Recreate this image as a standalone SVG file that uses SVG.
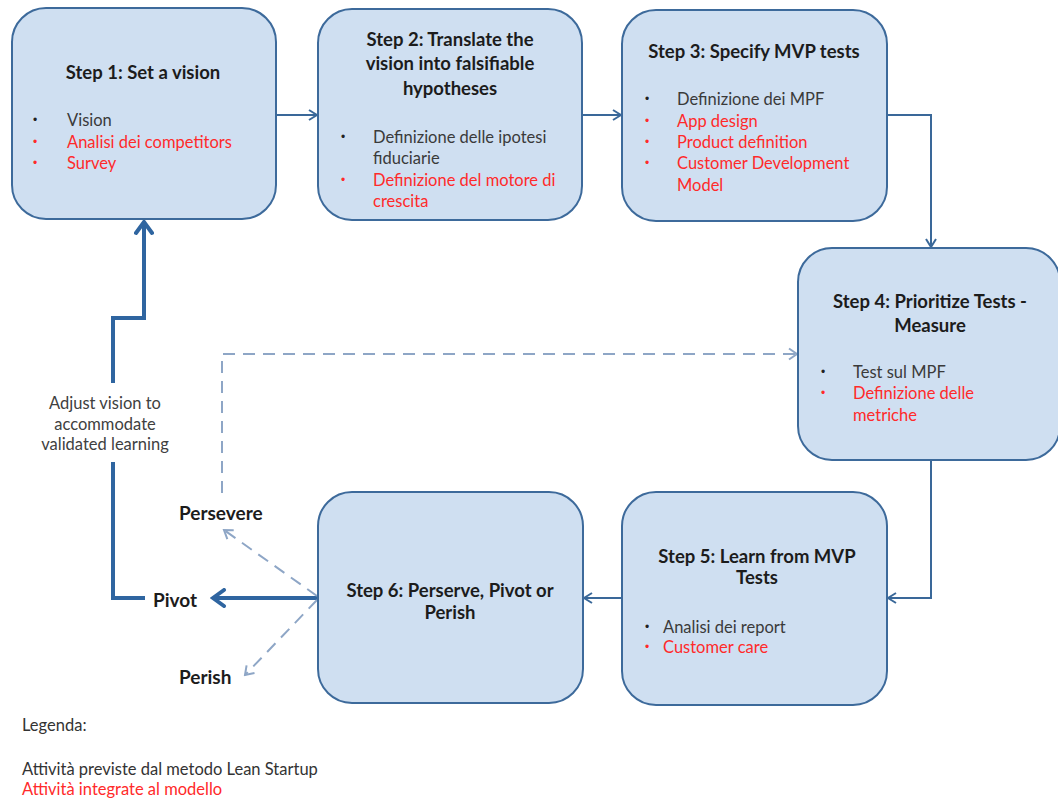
<svg xmlns="http://www.w3.org/2000/svg" width="1058" height="798" viewBox="0 0 1058 798">
  <defs>
    <style>
      .box { fill: #cfdff1; stroke: #3d6a9b; stroke-width: 2; }
      .title { font-family: Lato, "Liberation Sans", sans-serif; font-weight: bold; font-size: 18.5px; fill: #1c1c1c; text-anchor: middle; }
      .item { font-family: Lato, "Liberation Sans", sans-serif; font-size: 16.5px; fill: #3a3a3a; }
      .bul { font-family: "Liberation Sans", sans-serif; font-size: 12px; fill: #222; }
      .flow { fill: none; stroke: #3a6899; stroke-width: 2; }
      .thick { fill: none; stroke: #2f65a0; stroke-width: 4; }
      .dash { fill: none; stroke: #8ea6c6; stroke-width: 2; stroke-dasharray: 12 8; }
      .lbl { font-family: Lato, "Liberation Sans", sans-serif; font-weight: bold; font-size: 19px; fill: #1c1c1c; }
      .note { font-family: Lato, "Liberation Sans", sans-serif; font-size: 16.5px; fill: #404040; text-anchor: middle; }
      .legend { font-family: Lato, "Liberation Sans", sans-serif; font-size: 16.5px; fill: #333; }
      .red, .item.red, .bul.red, .legend.red { fill: #ff2a2a; }
    </style>
    <marker id="arr" viewBox="0 0 12 12" refX="11" refY="6" markerWidth="12" markerHeight="12" markerUnits="userSpaceOnUse" orient="auto">
      <path d="M3,1 L11,6 L3,11" fill="none" stroke="#3a6899" stroke-width="2"/>
    </marker>
    <marker id="arrThick" viewBox="0 0 20 20" refX="17" refY="10" markerWidth="20" markerHeight="20" markerUnits="userSpaceOnUse" orient="auto">
      <path d="M6,2 L17,10 L6,18" fill="none" stroke="#2f65a0" stroke-width="4" stroke-linecap="round"/>
    </marker>
    <marker id="arrDash" viewBox="0 0 14 14" refX="12" refY="7" markerWidth="14" markerHeight="14" markerUnits="userSpaceOnUse" orient="auto">
      <path d="M4,1.5 L12,7 L4,12.5" fill="none" stroke="#8ea6c6" stroke-width="2"/>
    </marker>
  </defs>

  <rect width="1058" height="798" fill="#ffffff"/>

  <!-- connectors -->
  <g id="connectors">
    <path class="flow" d="M276,115 L317,115" marker-end="url(#arr)"/>
    <path class="flow" d="M582,115 L621,115" marker-end="url(#arr)"/>
    <path class="flow" d="M887,115 L931,115 L931,247" marker-end="url(#arr)"/>
    <path class="flow" d="M931,461 L931,598 L888,598" marker-end="url(#arr)"/>
    <path class="flow" d="M622,598 L584,598" marker-end="url(#arr)"/>
    <path class="thick" d="M317,598 L213,598" marker-end="url(#arrThick)"/>
    <path class="thick" d="M145,598 L113,598 L113,462"/>
    <path class="thick" d="M113,383 L113,318 L144,318 L144,222" marker-end="url(#arrThick)"/>
    <path class="dash" d="M317,596 L224,530" marker-end="url(#arrDash)"/>
    <path class="dash" d="M317,600 L245,675" marker-end="url(#arrDash)"/>
    <path class="dash" d="M222,493 L222,354 L797,354" marker-end="url(#arrDash)"/>
  </g>

  <!-- Step 1 -->
  <g id="step1">
    <rect class="box" x="12" y="8" width="264" height="211" rx="34"/>
    <text class="title" x="143" y="79">Step 1: Set a vision</text>
    <text class="bul" x="33" y="124">•</text>
    <text class="item" x="67" y="126">Vision</text>
    <text class="bul red" x="33" y="146">•</text>
    <text class="item red" x="67" y="148">Analisi dei competitors</text>
    <text class="bul red" x="33" y="167">•</text>
    <text class="item red" x="67" y="169">Survey</text>
  </g>

  <!-- Step 2 -->
  <g id="step2">
    <rect class="box" x="318" y="9" width="264" height="211" rx="34"/>
    <text class="title" x="450" y="46">Step 2: Translate the</text>
    <text class="title" x="450" y="70">vision into falsifiable</text>
    <text class="title" x="450" y="95">hypotheses</text>
    <text class="bul" x="341" y="141">•</text>
    <text class="item" x="373" y="143">Definizione delle ipotesi</text>
    <text class="item" x="373" y="164">fiduciarie</text>
    <text class="bul red" x="341" y="184">•</text>
    <text class="item red" x="373" y="186">Definizione del motore di</text>
    <text class="item red" x="373" y="207">crescita</text>
  </g>

  <!-- Step 3 -->
  <g id="step3">
    <rect class="box" x="622" y="10" width="265" height="211" rx="34"/>
    <text class="title" x="754" y="58">Step 3: Specify MVP tests</text>
    <text class="bul" x="645" y="103">•</text>
    <text class="item" x="677" y="105">Definizione dei MPF</text>
    <text class="bul red" x="645" y="125">•</text>
    <text class="item red" x="677" y="127">App design</text>
    <text class="bul red" x="645" y="146">•</text>
    <text class="item red" x="677" y="148">Product definition</text>
    <text class="bul red" x="645" y="167">•</text>
    <text class="item red" x="677" y="169">Customer Development</text>
    <text class="item red" x="677" y="191">Model</text>
  </g>

  <!-- Step 4 -->
  <g id="step4">
    <rect class="box" x="798" y="248" width="262" height="212" rx="34"/>
    <text class="title" x="930" y="308">Step 4: Prioritize Tests -</text>
    <text class="title" x="930" y="332">Measure</text>
    <text class="bul" x="821" y="376">•</text>
    <text class="item" x="853" y="378">Test sul MPF</text>
    <text class="bul red" x="821" y="397">•</text>
    <text class="item red" x="853" y="399">Definizione delle</text>
    <text class="item red" x="853" y="421">metriche</text>
  </g>

  <!-- Step 5 -->
  <g id="step5">
    <rect class="box" x="622" y="492" width="265" height="213" rx="34"/>
    <text class="title" x="757" y="563">Step 5: Learn from MVP</text>
    <text class="title" x="757" y="584">Tests</text>
    <text class="bul" x="645" y="631">•</text>
    <text class="item" x="663" y="633">Analisi dei report</text>
    <text class="bul red" x="645" y="651">•</text>
    <text class="item red" x="663" y="653">Customer care</text>
  </g>

  <!-- Step 6 -->
  <g id="step6">
    <rect class="box" x="318" y="492" width="265" height="211" rx="34"/>
    <text class="title" x="450" y="597">Step 6: Perserve, Pivot or</text>
    <text class="title" x="450" y="619">Perish</text>
  </g>

  <!-- outcome labels -->
  <g id="outcomes">
    <text class="lbl" x="179" y="520">Persevere</text>
    <text class="lbl" x="153" y="607">Pivot</text>
    <text class="lbl" x="179" y="684">Perish</text>
    <text class="note" x="105" y="409">Adjust vision to</text>
    <text class="note" x="105" y="430">accommodate</text>
    <text class="note" x="105" y="450">validated learning</text>
  </g>

  <!-- legend -->
  <g id="legend">
    <text class="legend" x="22" y="731">Legenda:</text>
    <text class="legend" x="22" y="775">Attività previste dal metodo Lean Startup</text>
    <text class="legend red" x="22" y="795">Attività integrate al modello</text>
  </g>
</svg>
